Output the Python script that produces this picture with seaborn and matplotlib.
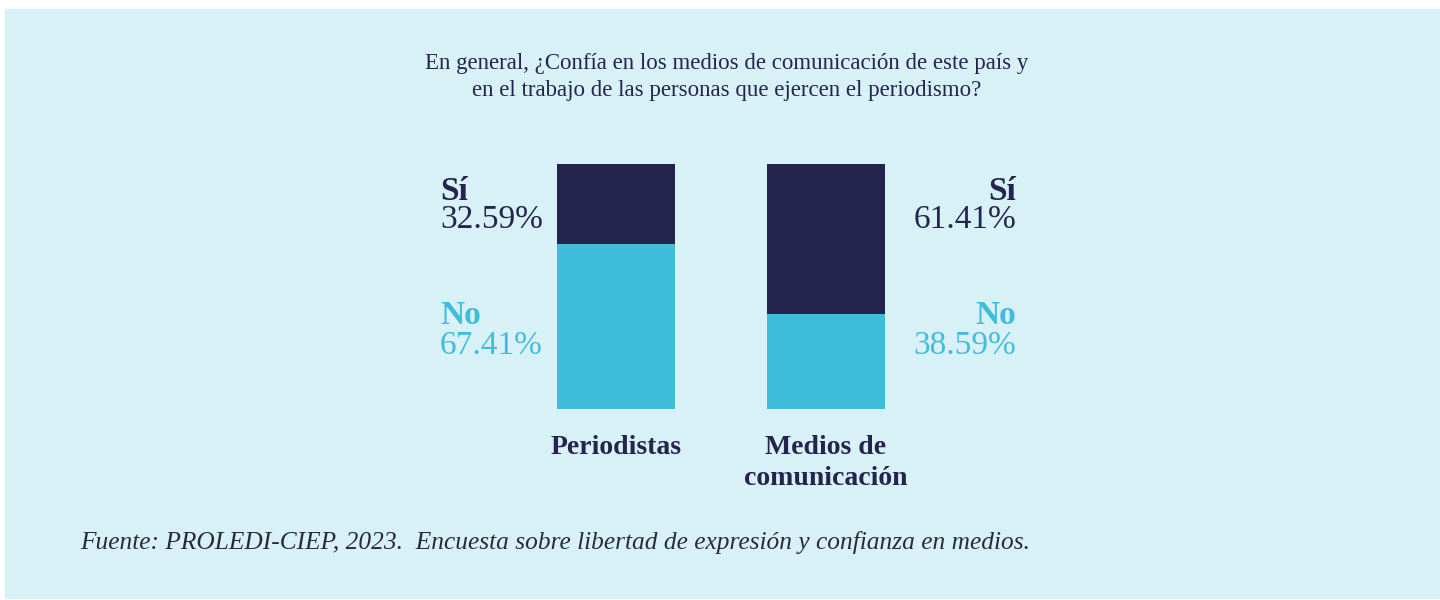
import pandas as pd
import matplotlib
matplotlib.use("Agg")
import matplotlib.pyplot as plt
from matplotlib.patches import Rectangle
import seaborn as sns

# Data
categories = ["Periodistas", "Medios de\ncomunicación"]
si_values = [32.59, 61.41]
no_values = [67.41, 38.59]

title_text = ("En general, ¿Confía en los medios de comunicación de este país y\n"
              "en el trabajo de las personas que ejercen el periodismo?")
source_text = ("Fuente: PROLEDI-CIEP, 2023.  Encuesta sobre libertad de expresión "
               "y confianza en medios.")

NAVY = "#25244E"
CYAN = "#41BDDC"
BG = "#D8F1F7"
W, H = 1440, 600

sns.set_theme(style="white")
plt.rcParams["font.family"] = ["Liberation Serif", "DejaVu Serif"]

df = pd.DataFrame({"cat": categories, "si": si_values, "no": no_values})
df["total"] = df["si"] + df["no"]

fig = plt.figure(figsize=(W / 100, H / 100), dpi=100, facecolor="white")
# light panel behind everything
fig.patches.append(Rectangle((5 / W, 2 / H), (W - 5) / W, (591 - 2) / H,
                             transform=fig.transFigure, color=BG, zorder=-5))

ax = fig.add_axes([406 / W, (H - 409) / H, 630 / W, 245 / H])
ax.set_facecolor("none")
ax.set_zorder(2)

# stacked: full bar in navy (Sí on top), No bar in cyan at the bottom
sns.barplot(data=df, x="cat", y="total", color=NAVY, width=0.562,
            saturation=1, ax=ax, linewidth=0)
sns.barplot(data=df, x="cat", y="no", color=CYAN, width=0.562,
            saturation=1, ax=ax, linewidth=0)
ax.set_xlim(-1, 2)
ax.set_ylim(0, 100)
ax.axis("off")

def px(x, y):
    return x / W, 1 - y / H

fig.text(*px(727, 77), title_text, ha="center", va="center", fontsize=16.5,
         color=NAVY, linespacing=1.4)

# value labels: left of first bar, right of second bar
label_x = [440, 1016]
aligns = ["left", "right"]
for i in range(len(categories)):
    fig.text(*px(label_x[i], 191), "Sí", ha=aligns[i], va="center",
             fontsize=24, fontweight="bold", color=NAVY)
    fig.text(*px(label_x[i], 220), f"{si_values[i]:.2f}%", ha=aligns[i],
             va="center", fontsize=24, color=NAVY)
    fig.text(*px(label_x[i], 316), "No", ha=aligns[i], va="center",
             fontsize=24, fontweight="bold", color=CYAN)
    fig.text(*px(label_x[i], 346), f"{no_values[i]:.2f}%", ha=aligns[i],
             va="center", fontsize=24, color=CYAN)

# category names under bars
for i, name in enumerate(categories):
    fig.text(*px(616 + 210 * i, 435), name, ha="center", va="top",
             fontsize=20, fontweight="bold", color=NAVY, linespacing=1.3)

fig.text(*px(80, 543), source_text, ha="left", va="center", fontsize=18.3,
         style="italic", color="#2A2A35")

fig.savefig("out.png", dpi=100, facecolor=fig.get_facecolor())
